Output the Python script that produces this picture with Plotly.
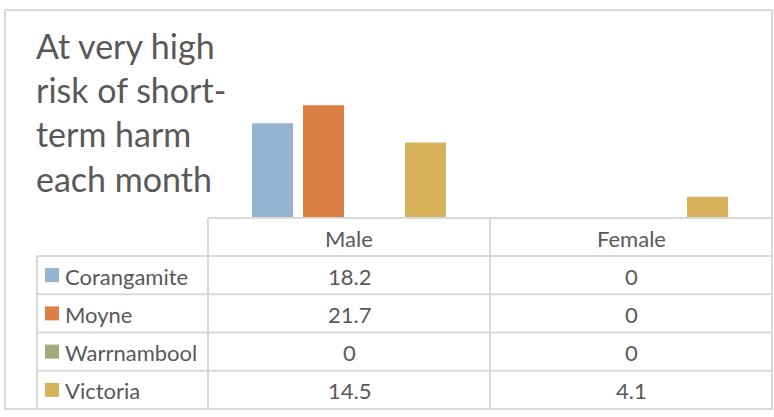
import plotly.graph_objects as go

categories = ["Male", "Female"]
series_names = ["Corangamite", "Moyne", "Warrnambool", "Victoria"]
corangamite = [18.2, 0]
moyne = [21.7, 0]
warrnambool = [0, 0]
victoria = [14.5, 4.1]
series_values = [corangamite, moyne, warrnambool, victoria]
series_labels = [["18.2", "0"], ["21.7", "0"], ["0", "0"], ["14.5", "4.1"]]
colors = ["#94B4D1", "#DC7F45", "#A2AA7E", "#D8B15B"]
title_text = "At very high<br>risk of short-<br>term harm<br>each month"

W, H = 774, 417
def px(x):
    return x / W
def py(y):
    return 1 - y / H

TXT = "#595959"
LINE = "#D9D9D9"
FONT = "Lato"
TFS = 22

fig = go.Figure()
for name, vals, col in zip(series_names, series_values, colors):
    fig.add_trace(go.Bar(x=categories, y=vals, name=name, marker=dict(color=col, line=dict(width=0)),
                         showlegend=False, hoverinfo="x+y+name"))

# table geometry (pixels)
x_left, x_cat, x_right = 37, 208, 772
col_w = (x_right - x_cat) / len(categories)
y_head_top, y_head_bot = 218, 256
row_h = (409 - 256) / len(series_names)

shapes = []
# outer chart border
shapes.append(dict(type="rect", xref="paper", yref="paper", x0=px(5), x1=px(772), y0=py(409), y1=py(10),
                   line=dict(color=LINE, width=2), fillcolor="rgba(0,0,0,0)", layer="below"))
# header top line
shapes.append(dict(type="line", xref="paper", yref="paper", x0=px(x_cat), x1=px(x_right),
                   y0=py(y_head_top), y1=py(y_head_top), line=dict(color=LINE, width=2)))
# row lines
for i in range(len(series_names) + 1):
    y = y_head_bot + i * row_h
    shapes.append(dict(type="line", xref="paper", yref="paper", x0=px(x_left), x1=px(x_right),
                       y0=py(y), y1=py(y), line=dict(color=LINE, width=2)))
# vertical lines
shapes.append(dict(type="line", xref="paper", yref="paper", x0=px(x_left), x1=px(x_left),
                   y0=py(y_head_bot), y1=py(409), line=dict(color=LINE, width=2)))
for j in range(len(categories) + 1):
    x = x_cat + j * col_w
    shapes.append(dict(type="line", xref="paper", yref="paper", x0=px(x), x1=px(x),
                       y0=py(y_head_top), y1=py(409), line=dict(color=LINE, width=2)))

annotations = []
annotations.append(dict(text=title_text, xref="paper", yref="paper", x=px(34), y=py(23),
                        xanchor="left", yanchor="top", align="left", showarrow=False,
                        font=dict(family=FONT, size=34, color=TXT)))
for j, cat in enumerate(categories):
    cx = x_cat + (j + 0.5) * col_w
    annotations.append(dict(text=cat, xref="paper", yref="paper", x=px(cx), y=py((y_head_top + y_head_bot) / 2 + 1),
                            xanchor="center", yanchor="middle", showarrow=False,
                            font=dict(family=FONT, size=TFS, color=TXT)))
for i, (name, labels, col) in enumerate(zip(series_names, series_labels, colors)):
    cy = y_head_bot + (i + 0.5) * row_h
    shapes.append(dict(type="rect", xref="paper", yref="paper", x0=px(45), x1=px(59),
                       y0=py(cy + 7), y1=py(cy - 7), fillcolor=col, line=dict(width=0)))
    annotations.append(dict(text=name, xref="paper", yref="paper", x=px(63), y=py(cy + 1),
                            xanchor="left", yanchor="middle", showarrow=False,
                            font=dict(family=FONT, size=TFS, color=TXT)))
    for j, lab in enumerate(labels):
        cx = x_cat + (j + 0.5) * col_w
        annotations.append(dict(text=lab, xref="paper", yref="paper", x=px(cx), y=py(cy + 1),
                                xanchor="center", yanchor="middle", showarrow=False,
                                font=dict(family=FONT, size=TFS, color=TXT)))

fig.update_layout(
    width=W, height=H,
    margin=dict(l=0, r=0, t=0, b=0),
    paper_bgcolor="white", plot_bgcolor="white",
    barmode="group", bargap=0.2766, bargroupgap=0.196,
    xaxis=dict(domain=[px(x_cat), px(x_right)], range=[-0.5, 1.5], visible=False, fixedrange=True),
    yaxis=dict(domain=[py(218), py(88)], range=[0, 25], visible=False, fixedrange=True),
    shapes=shapes, annotations=annotations,
    font=dict(family=FONT, color=TXT),
)

fig.write_html("out.html", config={"displayModeBar": False},
               post_script="document.body.style.margin='0';document.body.style.overflow='hidden';")
